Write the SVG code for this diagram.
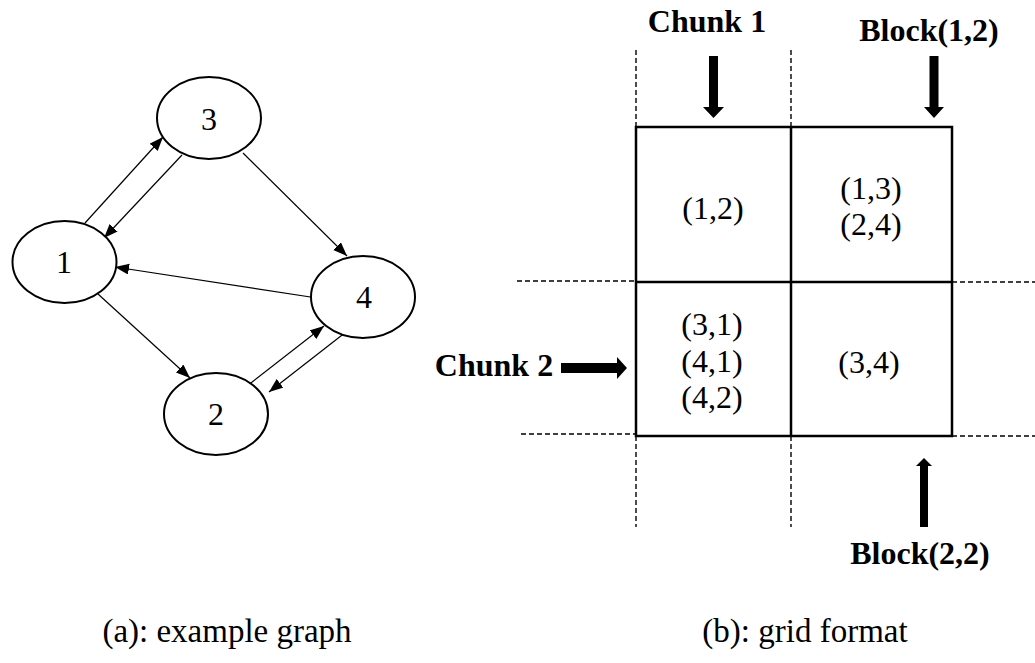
<svg xmlns="http://www.w3.org/2000/svg" width="1035" height="663" viewBox="0 0 1035 663">
<defs>
<style>
.node{fill:#fff;stroke:#000;stroke-width:2}
.lbl{font-family:"Liberation Serif","Times New Roman",serif;font-size:32px;fill:#000;text-anchor:middle}
.cap{font-family:"Liberation Serif","Times New Roman",serif;font-size:33px;fill:#000;text-anchor:middle}
.bold{font-family:"Liberation Serif","Times New Roman",serif;font-size:32px;font-weight:bold;fill:#000}
.edge{stroke:#000;stroke-width:1.2;fill:none;marker-end:url(#ah)}
.grid{fill:none;stroke:#000;stroke-width:2.5}
.dash{stroke:#000;stroke-width:1.4;stroke-dasharray:5 3;fill:none}
</style>
<marker id="ah" markerWidth="16" markerHeight="12" refX="14" refY="5.5" orient="auto" markerUnits="userSpaceOnUse">
<path d="M0,0 L14,5.5 L0,11 z" fill="#000"/>
</marker>
</defs>
<rect width="1035" height="663" fill="#fff"/>

<g id="connectors">
<line class="edge" x1="85" y1="223" x2="163" y2="137"/>
<line class="edge" x1="182" y1="155" x2="104" y2="238"/>
<line class="edge" x1="243" y1="153" x2="347" y2="256"/>
<line class="edge" x1="317" y1="298" x2="115" y2="267"/>
<line class="edge" x1="98" y1="294" x2="190" y2="378"/>
<line class="edge" x1="247" y1="386" x2="324" y2="326"/>
<line class="edge" x1="346" y1="332" x2="269" y2="392"/>
</g>

<g id="node3"><ellipse class="node" cx="209" cy="118" rx="52" ry="41"/><text class="lbl" x="209" y="130">3</text></g>
<g id="node1"><ellipse class="node" cx="64.5" cy="262" rx="52" ry="41"/><text class="lbl" x="64" y="273">1</text></g>
<g id="node4"><ellipse class="node" cx="363" cy="297" rx="52" ry="41"/><text class="lbl" x="364" y="308">4</text></g>
<g id="node2"><ellipse class="node" cx="216" cy="414" rx="52" ry="41"/><text class="lbl" x="216" y="425">2</text></g>

<g id="grid">
<line class="dash" x1="636" y1="50" x2="636" y2="127"/>
<line class="dash" x1="791" y1="50" x2="791" y2="127"/>
<line class="dash" x1="636" y1="436" x2="636" y2="527"/>
<line class="dash" x1="791" y1="436" x2="791" y2="527"/>
<line class="dash" x1="517" y1="281" x2="636" y2="281"/>
<line class="dash" x1="952" y1="282" x2="1035" y2="282"/>
<line class="dash" x1="521" y1="434" x2="636" y2="434"/>
<line class="dash" x1="952" y1="436" x2="1035" y2="436"/>
<rect class="grid" x="636" y="127" width="316" height="309"/>
<line class="grid" x1="791" y1="127" x2="791" y2="436"/>
<line class="grid" x1="636" y1="282" x2="952" y2="282"/>
</g>

<g id="cell11"><text class="lbl" x="713" y="219">(1,2)</text></g>
<g id="cell12"><text class="lbl" x="871" y="199">(1,3)</text><text class="lbl" x="871" y="235">(2,4)</text></g>
<g id="cell21"><text class="lbl" x="712" y="335">(3,1)</text><text class="lbl" x="712" y="372">(4,1)</text><text class="lbl" x="712" y="408">(4,2)</text></g>
<g id="cell22"><text class="lbl" x="869" y="373">(3,4)</text></g>

<g id="chunk1"><text class="bold" x="707" y="32" text-anchor="middle">Chunk 1</text>
<polygon points="709,56 718,56 718,107 724,107 713.5,118 703,107 709,107" fill="#000"/></g>
<g id="block12"><text class="bold" x="929" y="41" text-anchor="middle">Block(1,2)</text>
<polygon points="929.5,56 938.5,56 938.5,107 944,107 934,118 924,107 929.5,107" fill="#000"/></g>
<g id="chunk2"><text class="bold" x="494" y="376" text-anchor="middle">Chunk 2</text>
<polygon points="561,363 617,363 617,357 627,368 617,379 617,373 561,373" fill="#000"/></g>
<g id="block22"><text class="bold" x="920" y="564" text-anchor="middle">Block(2,2)</text>
<polygon points="924,458 932,466 928,466 928,527 920,527 920,466 916,466" fill="#000"/></g>

<g id="captions">
<text class="cap" x="227" y="642">(a): example graph</text>
<text class="cap" x="805" y="642">(b): grid format</text>
</g>
</svg>
